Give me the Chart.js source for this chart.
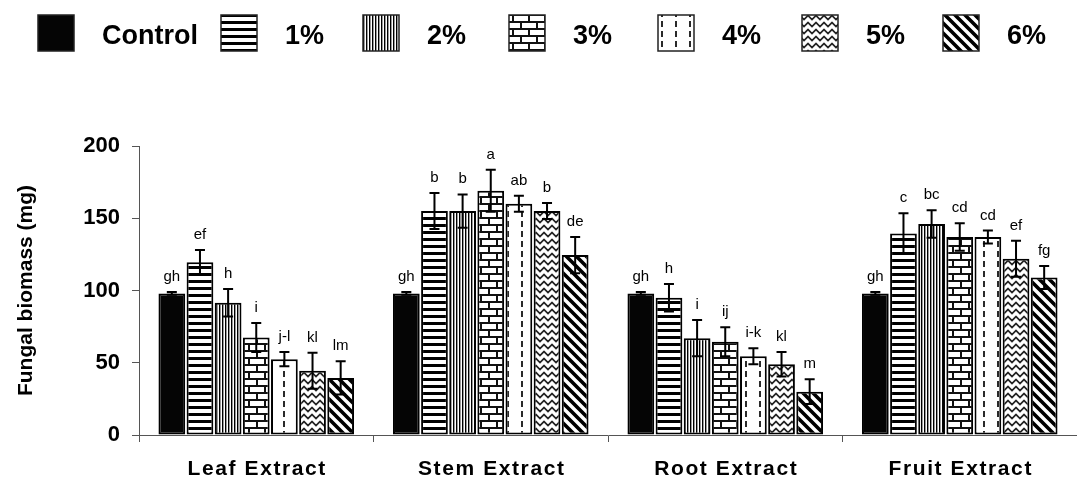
<!DOCTYPE html>
<html>
<head>
<meta charset="utf-8">
<script src="https://cdn.jsdelivr.net/npm/chart.js@4.4.1/dist/chart.umd.min.js"></script>
<style>
  html, body { margin: 0; padding: 0; background: #fff; }
  #chart { display: block; }
</style>
</head>
<body>
<canvas id="chart" width="1077" height="481"></canvas>
<script>
// --- DATA ---
const categories = ['Leaf Extract', 'Stem Extract', 'Root Extract', 'Fruit Extract'];
const seriesNames = ['Control', '1%', '2%', '3%', '4%', '5%', '6%'];

const controlVals = [98, 98, 98, 98];
const pct1Vals = [119.5, 155, 95, 139.5];
const pct2Vals = [91.5, 155, 67, 146];
const pct3Vals = [67.5, 169, 64.5, 137];
const pct4Vals = [52.5, 160, 54.5, 137];
const pct5Vals = [44.5, 155, 49, 122];
const pct6Vals = [39.5, 124.5, 30, 109];

const controlErr = [1, 1, 1, 1];
const pct1Err = [8.5, 12.5, 9.5, 14];
const pct2Err = [9.5, 11.5, 12.5, 9.5];
const pct3Err = [10, 14.5, 10, 9.5];
const pct4Err = [5, 5.5, 5.5, 4.5];
const pct5Err = [12.5, 5.5, 8.5, 12.5];
const pct6Err = [11.5, 12.5, 8.5, 8];

const controlLetters = ['gh', 'gh', 'gh', 'gh'];
const pct1Letters = ['ef', 'b', 'h', 'c'];
const pct2Letters = ['h', 'b', 'i', 'bc'];
const pct3Letters = ['i', 'a', 'ij', 'cd'];
const pct4Letters = ['j-l', 'ab', 'i-k', 'cd'];
const pct5Letters = ['kl', 'b', 'kl', 'ef'];
const pct6Letters = ['lm', 'de', 'm', 'fg'];

const yTicks = [0, 50, 100, 150, 200];

const allVals = [controlVals, pct1Vals, pct2Vals, pct3Vals, pct4Vals, pct5Vals, pct6Vals];
const allErr = [controlErr, pct1Err, pct2Err, pct3Err, pct4Err, pct5Err, pct6Err];
const allLetters = [controlLetters, pct1Letters, pct2Letters, pct3Letters, pct4Letters, pct5Letters, pct6Letters];

const FONT = '"Liberation Sans", Arial, Helvetica, sans-serif';

// --- FILL PATTERNS ---
function makePattern(w, h, draw) {
    const c = document.createElement('canvas');
    c.width = w;
    c.height = h;
    const g = c.getContext('2d');
    g.fillStyle = '#fff';
    g.fillRect(0, 0, w, h);
    draw(g);
    return g.createPattern(c, 'repeat');
}

const fills = [
    '#050505',
    // horizontal stripes
    makePattern(7, 7, g => {
        g.fillStyle = '#000';
        g.fillRect(0, 0, 7, 3);
    }),
    // thin vertical lines
    makePattern(3, 3, g => {
        g.fillStyle = '#000';
        g.fillRect(0, 0, 1, 3);
        g.fillStyle = '#9a9a9a';
        g.fillRect(1, 0, 1, 3);
    }),
    // brick
    makePattern(16, 14, g => {
        g.fillStyle = '#111';
        g.fillRect(0, 0, 16, 2);
        g.fillRect(0, 7, 16, 2);
        g.fillRect(0, 0, 2, 7);
        g.fillRect(8, 7, 2, 7);
    }),
    // vertical dashes
    makePattern(14, 10, g => {
        g.fillStyle = '#2a2a2a';
        g.fillRect(3, 1, 2, 6);
    }),
    // zigzag waves
    makePattern(8, 7, g => {
        g.strokeStyle = '#222';
        g.lineWidth = 1.7;
        g.beginPath();
        g.moveTo(-1, 1);
        g.lineTo(0, 1.5);
        g.lineTo(4, 5.5);
        g.lineTo(8, 1.5);
        g.lineTo(9, 1);
        g.stroke();
    }),
    // diagonal "\" stripes
    makePattern(10, 10, g => {
        g.strokeStyle = '#000';
        g.lineWidth = 3.6;
        g.beginPath();
        for (let k = -1; k <= 1; k++) {
            g.moveTo(-2, k * 10 - 2);
            g.lineTo(12, k * 10 + 12);
        }
        g.stroke();
    })
];

// --- PLUGINS ---
const errorBarsPlugin = {
    id: 'errorBars',
    afterDatasetsDraw(chart) {
        const ctx = chart.ctx;
        const yScale = chart.scales.y;
        ctx.save();
        ctx.strokeStyle = '#000';
        ctx.lineWidth = 2;
        ctx.fillStyle = '#000';
        ctx.font = '15px ' + FONT;
        ctx.textAlign = 'center';
        ctx.textBaseline = 'alphabetic';
        chart.data.datasets.forEach((ds, di) => {
            const meta = chart.getDatasetMeta(di);
            meta.data.forEach((bar, i) => {
                const v = ds.data[i];
                const e = allErr[di][i];
                const yTop = yScale.getPixelForValue(v + e);
                const yBot = yScale.getPixelForValue(v - e);
                const x = bar.x;
                ctx.beginPath();
                ctx.moveTo(x, yTop);
                ctx.lineTo(x, yBot);
                ctx.moveTo(x - 5, yTop);
                ctx.lineTo(x + 5, yTop);
                ctx.moveTo(x - 5, yBot);
                ctx.lineTo(x + 5, yBot);
                ctx.stroke();
                ctx.fillText(allLetters[di][i], x, yTop - 11);
            });
        });
        ctx.restore();
    }
};

const categoryLabelsPlugin = {
    id: 'categoryLabels',
    afterDraw(chart) {
        const ctx = chart.ctx;
        const xScale = chart.scales.x;
        ctx.save();
        ctx.fillStyle = '#000';
        ctx.font = 'bold 21px ' + FONT;
        ctx.letterSpacing = '1.6px';
        ctx.textAlign = 'center';
        ctx.textBaseline = 'middle';
        categories.forEach((c, i) => {
            ctx.fillText(c, xScale.getPixelForValue(i) + 1, 469);
        });
        ctx.restore();
    }
};

const legendBoxX = [38, 221, 363, 509, 658, 802, 943];

const topLegendPlugin = {
    id: 'topLegend',
    afterDraw(chart) {
        const ctx = chart.ctx;
        ctx.save();
        ctx.font = 'bold 27px ' + FONT;
        ctx.textBaseline = 'middle';
        ctx.textAlign = 'left';
        seriesNames.forEach((name, i) => {
            const bx = legendBoxX[i];
            ctx.fillStyle = fills[i];
            ctx.fillRect(bx, 15, 36, 36);
            ctx.strokeStyle = '#222';
            ctx.lineWidth = 1.5;
            ctx.strokeRect(bx, 15, 36, 36);
            ctx.fillStyle = '#000';
            ctx.fillText(name, bx + 64, 37);
        });
        ctx.restore();
    }
};

// --- CHART ---
const datasets = seriesNames.map((name, i) => ({
    label: name,
    data: allVals[i],
    backgroundColor: fills[i],
    borderColor: '#000',
    borderWidth: 2,
    borderSkipped: false,
    categoryPercentage: 0.84,
    barPercentage: 0.95
}));

new Chart(document.getElementById('chart'), {
    type: 'bar',
    data: { labels: categories, datasets: datasets },
    options: {
        responsive: false,
        animation: false,
        layout: { padding: { top: 146, left: 0, right: 0, bottom: 0 } },
        plugins: {
            legend: { display: false },
            tooltip: { enabled: false }
        },
        scales: {
            x: {
                grid: {
                    offset: true,
                    drawOnChartArea: false,
                    tickLength: 7,
                    color: '#555'
                },
                border: { color: '#555', width: 1 },
                ticks: { display: false },
                afterFit(scale) { scale.height = 46; }
            },
            y: {
                min: 0,
                max: 200,
                afterBuildTicks(scale) {
                    scale.ticks = yTicks.map(v => ({ value: v }));
                },
                grid: {
                    drawOnChartArea: false,
                    tickLength: 7,
                    color: '#555'
                },
                border: { color: '#555', width: 1 },
                ticks: {
                    padding: 12,
                    color: '#000',
                    font: { family: FONT, size: 22, weight: 'bold' }
                },
                title: {
                    display: true,
                    text: 'Fungal biomass (mg)',
                    color: '#000',
                    padding: { top: 14, bottom: 0 },
                    font: { family: FONT, size: 21, weight: 'bold' }
                },
                afterFit(scale) { scale.width = 139; }
            }
        }
    },
    plugins: [errorBarsPlugin, categoryLabelsPlugin, topLegendPlugin]
});
</script>
</body>
</html>
